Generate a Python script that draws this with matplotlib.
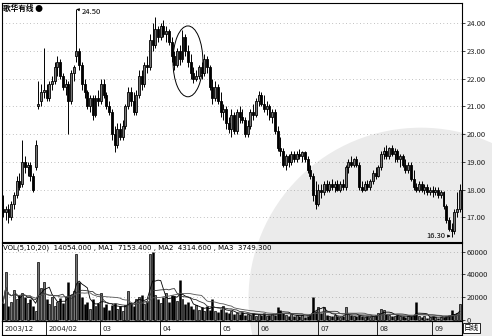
import numpy as np
import pandas as pd
import matplotlib
matplotlib.use('Agg')
import matplotlib.pyplot as plt
from matplotlib.patches import Rectangle, Ellipse

plt.rcParams['font.family'] = ['Noto Sans CJK SC', 'DejaVu Sans']

# ---- daily candles, 2003/12 .. 2004/09 ----
opens = [17.3, 17.2, 17.3, 17.0, 17.5, 17.8, 18.3, 18.2, 19.0, 18.8,
         18.9, 18.5, 18.8, 21.0, 21.2, 21.5, 21.6, 21.3, 21.8, 21.9,
         22.4, 22.6, 22.1, 21.7, 21.8, 21.2, 22.2, 22.8, 23.0, 22.5,
         21.8, 21.5, 21.0, 21.3, 20.7, 21.3, 21.2, 21.8, 21.4, 21.0,
         20.8, 20.0, 19.6, 20.2, 19.9, 20.3, 21.0, 21.5, 21.2, 20.8,
         21.4, 22.1, 21.8, 22.5, 22.4, 23.4, 23.2, 23.8, 23.5, 23.9,
         23.6, 23.7, 23.3, 22.8, 22.5, 23.0, 22.7, 23.5, 23.0, 22.6,
         22.2, 22.0, 22.1, 22.4, 22.2, 22.7, 22.4, 21.7, 21.3, 21.7,
         21.2, 20.8, 20.9, 20.4, 20.2, 20.7, 20.1, 20.8, 20.6, 20.5,
         20.0, 20.3, 20.8, 20.7, 21.2, 21.4, 21.1, 20.9, 21.0, 20.6,
         20.8, 20.1, 19.5, 19.4, 18.9, 19.2, 19.0, 19.3, 19.1, 19.3,
         19.2, 19.35, 19.1, 18.7, 18.5, 17.8, 17.5, 18.0, 17.9, 18.2,
         18.0, 18.2, 18.1, 18.2, 18.0, 18.2, 18.1, 18.8, 19.0, 18.9,
         19.1, 18.9, 18.1, 18.0, 18.2, 18.1, 18.3, 18.6, 18.5, 18.8,
         19.3, 19.4, 19.2, 19.5, 19.3, 19.4, 19.1, 19.2, 18.9, 18.7,
         18.9, 18.4, 18.1, 18.0, 18.2, 18.0, 18.1, 17.9, 18.0, 17.9,
         18.0, 17.8, 17.9, 17.4, 16.9, 16.6, 16.5, 17.2, 17.3]
highs = [17.8, 17.4, 17.5, 17.6, 17.9, 18.5, 18.6, 19.8, 19.2, 19.0,
         19.0, 18.6, 19.8, 21.9, 21.8, 23.1, 21.8, 21.9, 22.1, 22.6,
         22.8, 22.7, 22.2, 22.0, 21.9, 22.3, 22.5, 24.5, 23.1, 22.6,
         22.0, 21.6, 21.4, 21.4, 21.4, 21.6, 22.0, 22.0, 21.5, 21.2,
         20.9, 20.3, 20.4, 20.4, 20.5, 21.1, 21.7, 21.7, 21.5, 21.6,
         22.3, 22.3, 22.6, 22.8, 23.6, 24.0, 24.2, 23.9, 24.0, 24.1,
         23.9, 23.8, 23.5, 23.0, 23.1, 23.2, 23.75, 23.6, 23.2, 22.9,
         22.4, 22.3, 22.5, 22.6, 22.9, 22.8, 22.5, 22.0, 21.9, 21.8,
         21.5, 21.1, 21.0, 20.6, 20.9, 20.8, 20.9, 21.0, 20.9, 20.6,
         20.5, 20.9, 21.1, 21.3, 21.55, 21.5, 21.4, 21.2, 21.1, 20.9,
         20.9, 20.3, 19.9, 19.5, 19.3, 19.3, 19.4, 19.4, 19.4, 19.45,
         19.4, 19.4, 19.2, 18.9, 18.6, 18.3, 18.2, 18.2, 18.3, 18.35,
         18.3, 18.4, 18.3, 18.35, 18.3, 18.4, 18.9, 19.1, 19.2, 19.15,
         19.2, 19.0, 18.3, 18.3, 18.35, 18.4, 18.7, 18.8, 18.9, 19.4,
         19.55, 19.6, 19.55, 19.6, 19.5, 19.45, 19.3, 19.3, 19.1, 19.0,
         19.0, 18.7, 18.25, 18.3, 18.3, 18.2, 18.2, 18.1, 18.15, 18.1,
         18.1, 18.0, 17.95, 17.5, 17.0, 16.8, 17.3, 17.9, 18.2]
lows = [17.0, 16.9, 16.8, 16.9, 17.3, 17.7, 18.0, 18.1, 18.6, 18.5,
        18.3, 17.9, 18.7, 20.9, 21.0, 21.3, 21.2, 21.2, 21.6, 21.8,
        22.1, 22.0, 21.6, 21.4, 20.0, 21.1, 21.9, 22.6, 22.3, 21.6,
        21.3, 20.9, 20.8, 20.5, 20.6, 21.0, 21.1, 21.3, 20.9, 20.7,
        19.8, 19.35, 19.5, 19.8, 19.8, 20.2, 20.9, 21.0, 20.7, 20.7,
        21.3, 21.6, 21.7, 22.2, 22.3, 23.0, 23.1, 23.3, 23.4, 23.5,
        23.3, 23.2, 22.6, 22.3, 22.4, 22.5, 22.6, 22.8, 22.4, 22.0,
        21.85, 21.9, 22.0, 22.0, 22.1, 22.2, 21.6, 21.1, 21.2, 21.1,
        20.6, 20.5, 20.2, 20.05, 19.9, 20.0, 20.0, 20.4, 20.4, 19.9,
        19.9, 20.2, 20.5, 20.6, 21.0, 21.0, 20.8, 20.7, 20.5, 20.4,
        20.0, 19.4, 19.2, 18.8, 18.7, 18.8, 18.9, 19.0, 19.0, 19.1,
        19.0, 19.0, 18.6, 18.4, 17.6, 17.3, 17.4, 17.7, 17.8, 17.9,
        17.9, 18.0, 17.9, 17.95, 17.9, 18.0, 18.0, 18.6, 18.8, 18.8,
        18.8, 18.0, 17.9, 17.95, 18.0, 18.0, 18.2, 18.4, 18.45, 18.7,
        19.1, 19.1, 19.1, 19.2, 19.0, 19.0, 18.8, 18.8, 18.6, 18.6,
        18.3, 18.0, 17.9, 17.9, 17.9, 17.85, 17.8, 17.8, 17.75, 17.8,
        17.7, 17.7, 17.3, 16.8, 16.5, 16.3, 16.4, 17.0, 17.2]
closes = [17.2, 17.3, 17.0, 17.5, 17.8, 18.3, 18.1, 19.0, 18.8, 18.9,
          18.5, 18.0, 19.6, 21.1, 21.5, 21.6, 21.3, 21.8, 21.9, 22.4,
          22.6, 22.1, 21.7, 21.8, 21.2, 22.2, 22.4, 23.0, 22.5, 21.8,
          21.5, 21.0, 21.3, 20.7, 21.3, 21.2, 21.8, 21.4, 21.0, 20.8,
          20.0, 19.6, 20.2, 19.9, 20.3, 21.0, 21.5, 21.2, 20.8, 21.4,
          22.1, 21.8, 22.5, 22.4, 23.4, 23.2, 23.8, 23.5, 23.9, 23.6,
          23.7, 23.3, 22.8, 22.5, 23.0, 22.7, 23.5, 23.0, 22.6, 22.2,
          22.0, 22.1, 22.4, 22.2, 22.7, 22.4, 21.7, 21.3, 21.7, 21.2,
          20.8, 20.9, 20.4, 20.2, 20.7, 20.1, 20.8, 20.6, 20.5, 20.0,
          20.3, 20.8, 20.7, 21.2, 21.4, 21.1, 20.9, 21.0, 20.6, 20.8,
          20.1, 19.5, 19.4, 18.9, 19.2, 19.0, 19.3, 19.1, 19.3, 19.2,
          19.35, 19.1, 18.7, 18.5, 17.8, 17.5, 18.0, 17.9, 18.2, 18.0,
          18.2, 18.1, 18.2, 18.0, 18.2, 18.1, 18.8, 19.0, 18.9, 19.1,
          18.9, 18.1, 18.0, 18.2, 18.1, 18.3, 18.6, 18.5, 18.8, 19.3,
          19.4, 19.2, 19.5, 19.3, 19.4, 19.1, 19.2, 18.9, 18.7, 18.9,
          18.4, 18.1, 18.0, 18.2, 18.0, 18.1, 17.9, 18.0, 17.9, 18.0,
          17.8, 17.9, 17.4, 16.9, 16.6, 16.5, 17.2, 17.3, 18.0]
volumes = [15000, 42000, 12000, 16000, 26000, 18000, 22000, 24000, 20000, 15000,
           18000, 12000, 8000, 51000, 28000, 33000, 18000, 14000, 20000, 12000,
           16000, 19000, 15000, 20000, 33000, 22000, 25000, 58000, 33000, 20000,
           14000, 16000, 10000, 18000, 12000, 15000, 24000, 11000, 14000, 9000,
           13000, 15000, 10000, 12000, 8000, 13000, 25000, 15000, 12000, 18000,
           20000, 22000, 14000, 17000, 58000, 60000, 22000, 18000, 15000, 20000,
           24000, 16000, 22000, 21000, 17000, 35000, 18000, 14000, 16000, 12000,
           10000, 13000, 9000, 11000, 8000, 12000, 9000, 18000, 8000, 7000,
           10000, 12000, 7000, 6000, 8000, 5000, 6000, 5000, 7000, 4000,
           5000, 4500, 6000, 3500, 5000, 4000, 6000, 3000, 4000, 5000,
           4000, 11500, 9000, 6000, 4000, 3500, 5000, 3000, 4500, 3000,
           4000, 2500, 3500, 5000, 20000, 8000, 11000, 6000, 11000, 4000,
           3500, 3000, 4000, 3000, 2500, 3500, 11000, 5000, 4000, 3000,
           3500, 4500, 3000, 2500, 3000, 2800, 3500, 4000, 6000, 10000,
           9000, 5000, 4000, 3500, 3000, 4000, 3500, 3000, 2500, 3000,
           3500, 4000, 16000, 3000, 2500, 3000, 2000, 2500, 3000, 2200,
           2000, 2800, 2500, 3000, 4000, 9000, 5000, 6000, 14054]

# first trading day of each month shown on the date strip
month_starts = [0, 16, 36, 58, 80, 94, 116, 138, 158]
month_labels = ['2003/12', '2004/02', '03', '04', '05', '06', '07', '08', '09']

price_ticks = [17, 18, 19, 20, 21, 22, 23, 24]
vol_ticks = [0, 20000, 40000, 60000]
vol_header = 'VOL(5,10,20)  14054.000 , MA1  7153.400 , MA2  4314.600 , MA3  3749.300'

df = pd.DataFrame({'open': opens, 'high': highs, 'low': lows,
                   'close': closes, 'vol': volumes})
x = np.arange(len(df))
up = df['close'] >= df['open']

fig = plt.figure(figsize=(4.92, 3.36), dpi=100)

# grey watermark stamp in the lower right (behind everything)
fig.patches.append(Ellipse((0.855, 0.11), 0.70, 1.02, transform=fig.transFigure,
                           facecolor='#ebebeb', edgecolor='none', zorder=-10))

ax = fig.add_axes([0.004, 0.280, 0.935, 0.711])
axv = fig.add_axes([0.004, 0.045, 0.935, 0.232])
axd = fig.add_axes([0.004, 0.004, 0.935, 0.040])
for a in (ax, axv, axd):
    a.set_facecolor('none')
    a.set_xlim(-0.4, 168.8)
    for s in a.spines.values():
        s.set_linewidth(0.8)

# ---- price panel ----
w = 0.72
ax.vlines(x, df['low'], df['high'], color='black', lw=0.7, zorder=3)
for i in x:
    o, c = df['open'][i], df['close'][i]
    lo, hi = min(o, c), max(o, c)
    fc = '#777777' if up[i] else 'black'
    ax.add_patch(Rectangle((i - w / 2, lo), w, max(hi - lo, 0.03),
                           facecolor=fc, edgecolor='black', lw=0.6, zorder=4))

ax.set_ylim(16.12, 24.72)
ax.yaxis.tick_right()
ax.set_yticks(price_ticks)
ax.set_yticklabels(['%.2f' % t for t in price_ticks])
ax.tick_params(axis='y', labelsize=5.5, length=2, width=0.6, pad=1.5, colors='#222')
ax.set_xticks([])
for t in price_ticks:
    ax.axhline(t, color='#888', lw=0.5, ls=(0, (1, 4)), zorder=1)

ax.text(0.003, 0.995, '歌华有线 ●', transform=ax.transAxes, ha='left', va='top',
        fontsize=5.5, fontweight='bold')

# highest / lowest marks
ax.annotate('24.50', xy=(27, 24.5), xytext=(29.0, 24.38), fontsize=5.5,
            va='center', arrowprops=dict(arrowstyle='-|>', lw=0.5, color='black',
                                         mutation_scale=4, shrinkA=0, shrinkB=0))
ax.annotate('16.30', xy=(164.6, 16.33), xytext=(155.6, 16.33), fontsize=5.5,
            va='center', ha='left', arrowprops=dict(arrowstyle='-|>', lw=0.5, color='black',
                                                    mutation_scale=4, shrinkA=0, shrinkB=0))
# circle drawn around the topping area
ax.add_patch(Ellipse((68, 22.62), 11, 2.55, facecolor='none', edgecolor='black',
                     lw=0.7, zorder=5))

# ---- volume panel ----
axv.vlines(x[~up], 0, df['vol'][~up], color='black', lw=1.8, zorder=3)
for i in x[up]:
    axv.add_patch(Rectangle((i - w / 2, 0), w, df['vol'][i], facecolor='#777777',
                            edgecolor='black', lw=0.5, zorder=3))
ma1 = df['vol'].rolling(5, min_periods=1).mean()
ma2 = df['vol'].rolling(10, min_periods=1).mean()
ma3 = df['vol'].rolling(20, min_periods=1).mean()
axv.plot(x, ma1, color='black', lw=0.6, zorder=4)
axv.plot(x, ma2, color='#333', lw=0.6, zorder=4)
axv.plot(x, ma3, color='#555', lw=0.6, zorder=4)

axv.set_ylim(-900, 67800)
axv.yaxis.tick_right()
axv.set_yticks(vol_ticks)
axv.set_yticklabels([str(t) for t in vol_ticks])
axv.tick_params(axis='y', labelsize=5.5, length=2, width=0.6, pad=1.5, colors='#222')
axv.set_xticks([])
for t in vol_ticks[1:]:
    axv.axhline(t, color='#888', lw=0.5, ls=(0, (1, 4)), zorder=1)
axv.text(0.003, 0.985, vol_header, transform=axv.transAxes, ha='left', va='top',
         fontsize=5, family='DejaVu Sans')

# ---- date strip ----
axd.set_ylim(0, 1)
axd.set_xticks([])
axd.set_yticks([])
for m, lab in zip(month_starts, month_labels):
    axd.axvline(m - 0.3, color='black', lw=0.6)
    axd.text(m + 0.6, 0.45, lab, fontsize=5, va='center', ha='left', color='#222',
             family='DejaVu Sans')
fig.text(0.943, 0.024, '日线', fontsize=5.5, va='center', ha='left',
         bbox=dict(boxstyle='square,pad=0.15', facecolor='white', edgecolor='black', lw=0.6))

fig.savefig('out.png', dpi=100)
